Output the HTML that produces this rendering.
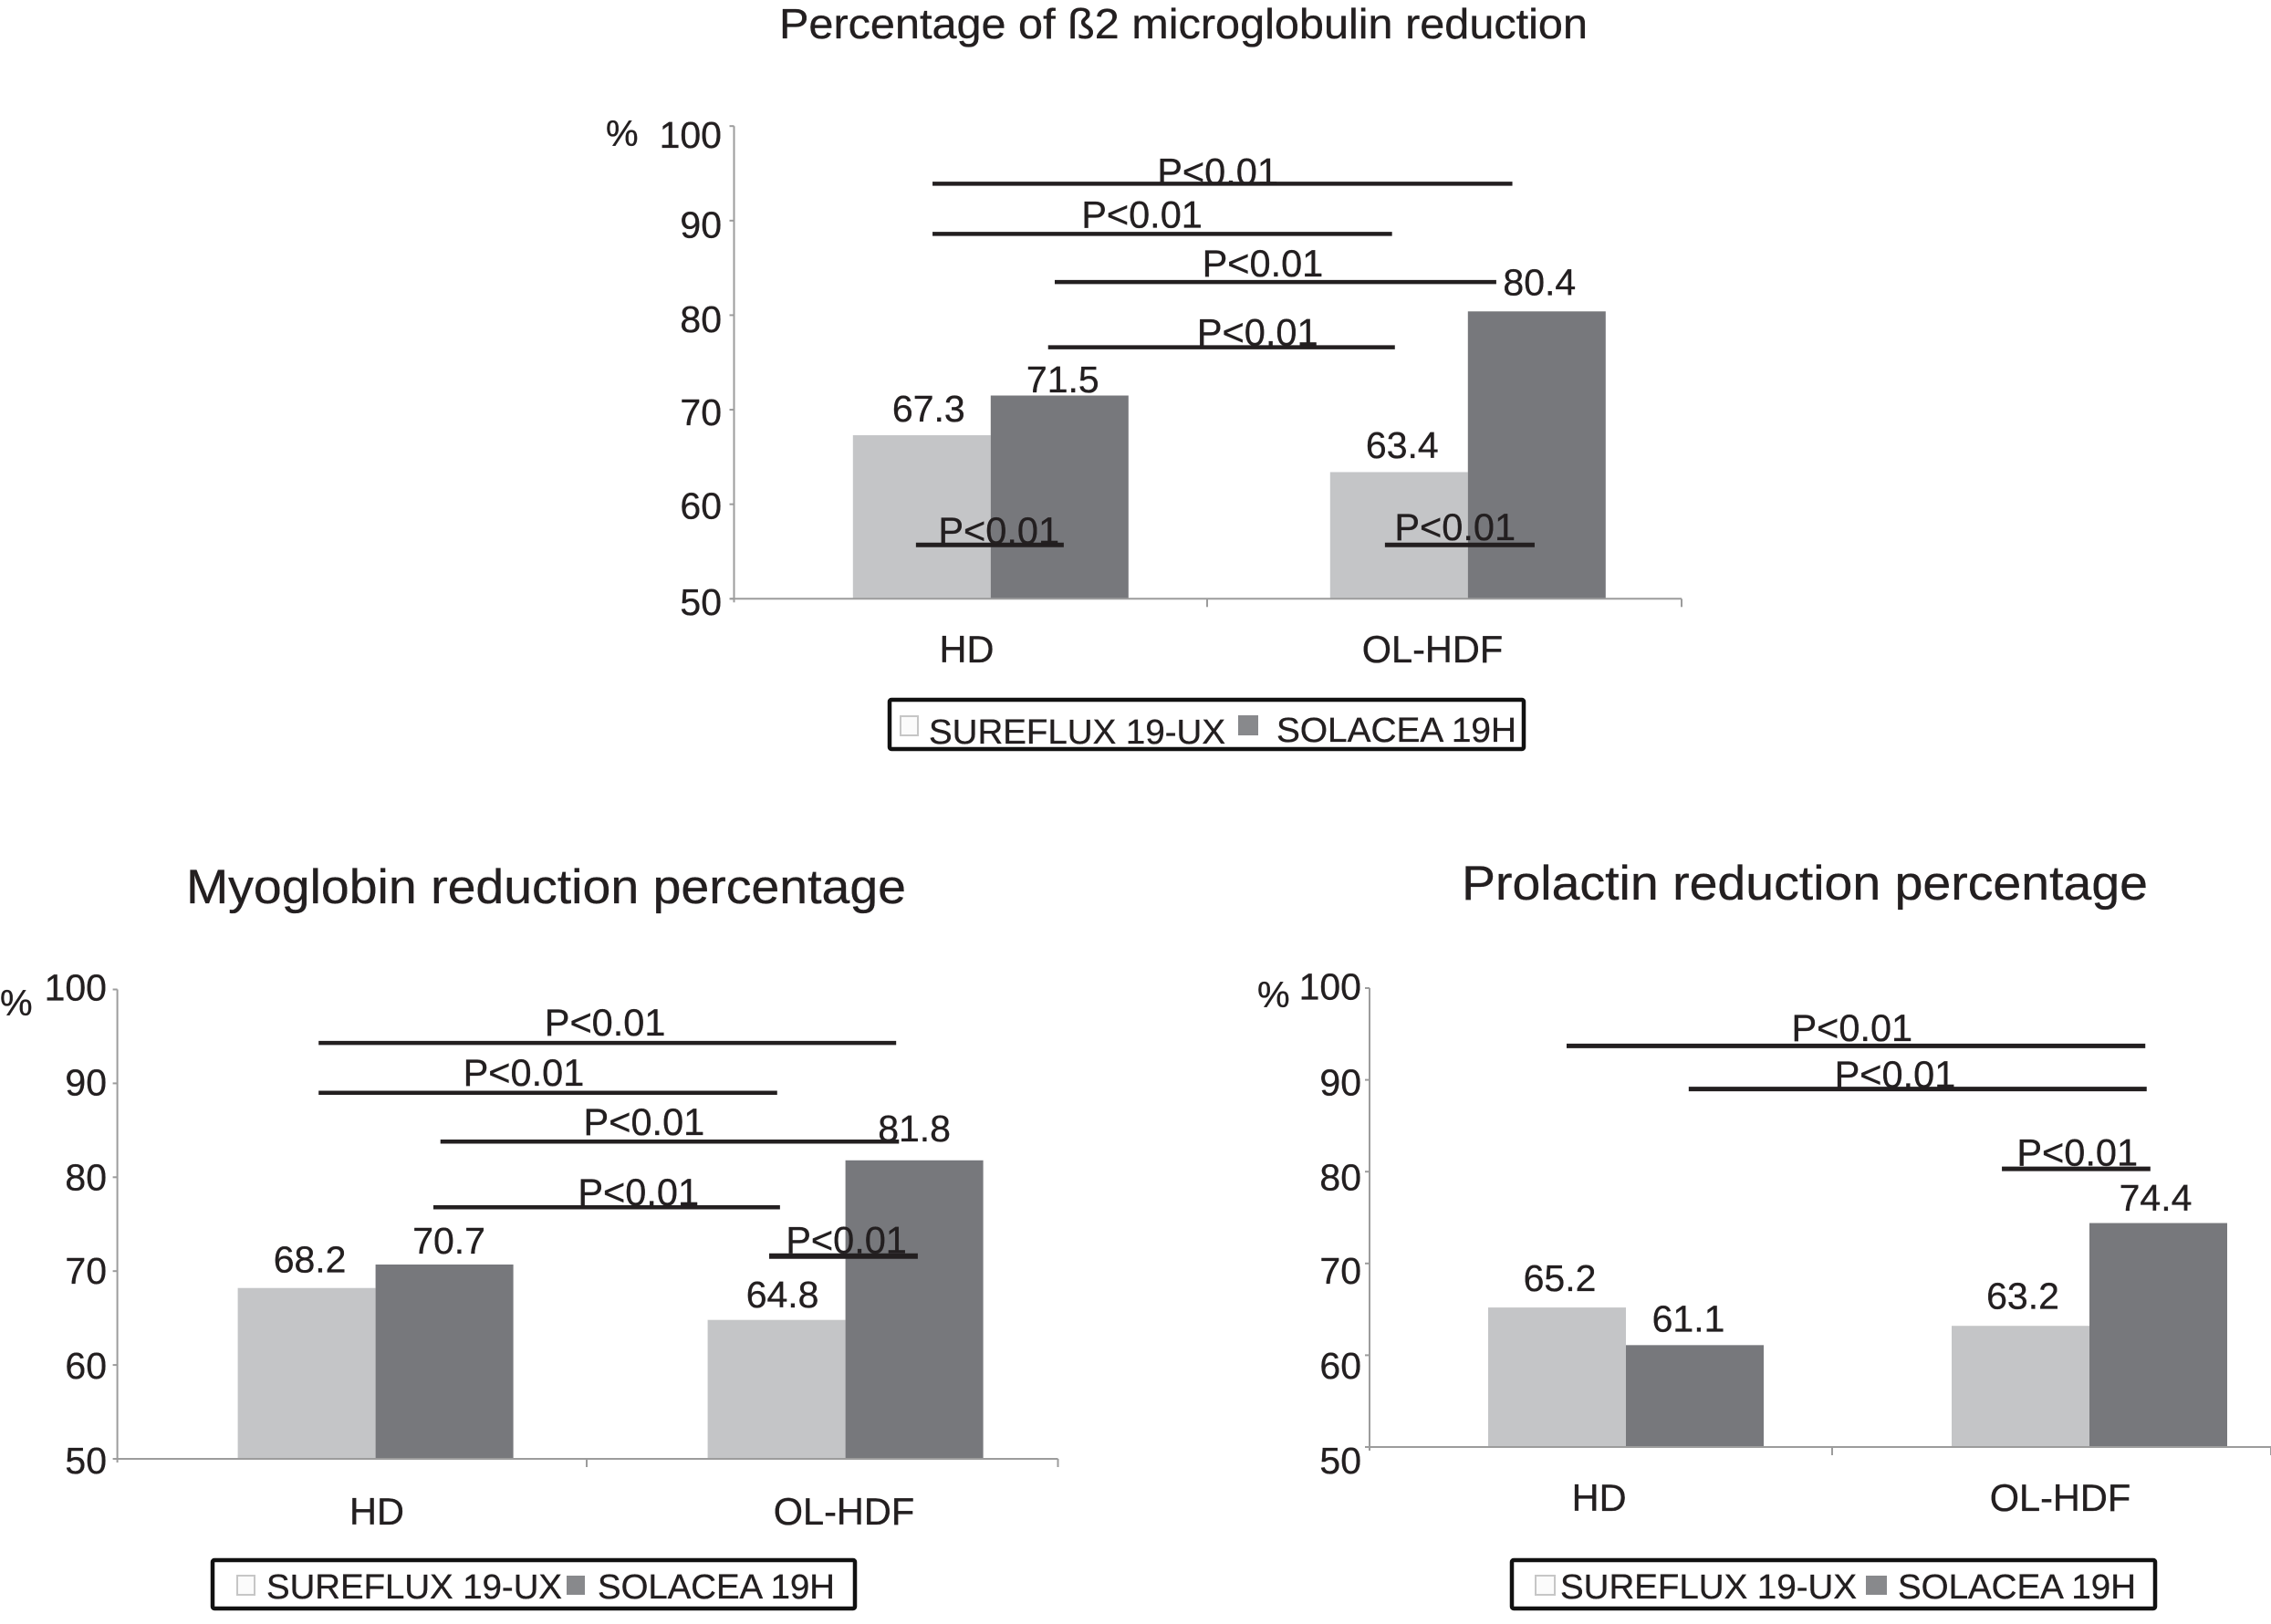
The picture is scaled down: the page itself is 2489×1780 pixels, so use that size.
<!DOCTYPE html>
<html lang="en">
<head>
<meta charset="utf-8">
<title>Reduction percentage charts</title>
<style>
html,body{margin:0;padding:0;background:#fff;width:2489px;height:1780px;overflow:hidden}
svg{display:block}
text{font-family:"Liberation Sans",sans-serif;fill:#231f20;stroke:#231f20;stroke-width:.35px}
</style>
</head>
<body>
<svg id="figure" xmlns="http://www.w3.org/2000/svg" width="2489" height="1780" viewBox="0 0 2489 1780"></svg>
<script>
// ---- Data ----
const categories = ['HD', 'OL-HDF'];
const yTicks = [50, 60, 70, 80, 90, 100];
const seriesNames = ['SUREFLUX 19-UX', 'SOLACEA 19H'];
const pText = 'P<0.01';

const betaSureflux = [67.3, 63.4];
const betaSolacea = [71.5, 80.4];
const myoSureflux = [68.2, 64.8];
const myoSolacea = [70.7, 81.8];
const proSureflux = [65.2, 63.2];
const proSolacea = [61.1, 74.4];

// Significance brackets: y level in %, extent in category-axis units (0 to 2)
const betaPLevels = [93.9, 88.6, 83.5, 76.6, 55.7, 55.7];
const betaPFrom = [0.419, 0.419, 0.677, 0.663, 0.384, 1.374];
const betaPTo = [1.643, 1.389, 1.609, 1.395, 0.696, 1.690];
const betaPMid = [1.021, 0.861, 1.116, 1.105, 0.559, 1.522];

const myoPLevels = [94.3, 89.0, 83.8, 76.8, 71.6];
const myoPFrom = [0.428, 0.428, 0.687, 0.672, 1.386];
const myoPTo = [1.656, 1.403, 1.662, 1.409, 1.702];
const myoPMid = [1.037, 0.864, 1.120, 1.108, 1.550];

const proPLevels = [93.7, 89.0, 80.3];
const proPFrom = [0.426, 0.690, 1.367];
const proPTo = [1.677, 1.680, 1.688];
const proPMid = [1.043, 1.136, 1.530];

// ---- Layout of each panel (geometry only) ----
const COLORS = {light: '#c4c5c7', dark: '#77787c', axis: '#9c9c9c', ink: '#231f20'};

const panels = [
  {
    key: 'beta', title: 'Percentage of ß2 microglobulin reduction',
    titleX: 854, titleY: 42, titleW: 886, titleSize: 46,
    left: 804.5, right: 1843, top: 138.2, bottom: 656.3,
    tickLabelRight: 791, tickLabelTop: 162, tickLabelBottom: 674,
    tickLabelNudge: [0, -3, -3, -3, -4, 0],
    pct: [664, 160],
    groupStart: 281.3, groupStep: 523, barW: 151,
    sureflux: betaSureflux, solacea: betaSolacea,
    labelDx: [[7.5, 3.5], [3.5, 3]], labelDy: [[-15, -15.5], [-3.6, -18]],
    catX: [1059.5, 1570], catY: 726, midTick: 1323,
    pLevels: betaPLevels, pFrom: betaPFrom, pTo: betaPTo, pMid: betaPMid,
    pDy: [1, -7, -6, -2, -1, -5], pWidth: [4.5, 4.5, 4.5, 4.5, 5, 5],
    legend: {x: 975, y: 767, w: 695, h: 54, sw1: [987, 785, 19, 21], t1: [1018, 815, 325], sw2: [1357, 784, 22, 22], t2: [1399, 813, 263]}
  },
  {
    key: 'myoglobin', title: 'Myoglobin reduction percentage',
    titleX: 204, titleY: 990, titleW: 789, titleSize: 53,
    left: 128.6, right: 1159.5, top: 1084.5, bottom: 1599,
    tickLabelRight: 117, tickLabelTop: 1095.5, tickLabelBottom: 1615,
    tickLabelNudge: [0, 0, 0, 1, 1, 1],
    pct: [0, 1113],
    groupStart: 283, groupStep: 515, barW: 151,
    sureflux: myoSureflux, solacea: myoSolacea,
    labelDx: [[3.5, 6.5], [5, 0]], labelDy: [[-17, -13.7], [-12, -21]],
    catX: [413, 925], catY: 1671, midTick: 643,
    pLevels: myoPLevels, pFrom: myoPFrom, pTo: myoPTo, pMid: myoPMid,
    pDy: [-8, -7.5, -7, -2, -3], pWidth: [4.5, 4.5, 4.5, 4.5, 6],
    legend: {x: 233, y: 1710, w: 704, h: 53, sw1: [260, 1727, 19, 21], t1: [292, 1752, 324], sw2: [621, 1727, 20, 21], t2: [655, 1752, 260]}
  },
  {
    key: 'prolactin', title: 'Prolactin reduction percentage',
    titleX: 1602, titleY: 986, titleW: 752, titleSize: 53,
    left: 1501, right: 2489, top: 1083, bottom: 1586,
    tickLabelRight: 1492, tickLabelTop: 1095.5, tickLabelBottom: 1615,
    tickLabelNudge: [0, 0, 0, 1, 1, 0],
    pct: [1378, 1104],
    groupStart: 281, groupStep: 508, barW: 151,
    sureflux: proSureflux, solacea: proSolacea,
    labelDx: [[3, 2.5], [-7, -3]], labelDy: [[-18, -18.5], [-15, -13.5]],
    catX: [1752.6, 2258], catY: 1656, midTick: 2008,
    pLevels: proPLevels, pFrom: proPFrom, pTo: proPTo, pMid: proPMid,
    pDy: [-5.5, -1.5, -3.5], pWidth: [5, 5, 5],
    legend: {x: 1657, y: 1710, w: 705, h: 53, sw1: [1683, 1727, 21, 21], t1: [1710, 1752, 325], sw2: [2045, 1727, 23, 21], t2: [2080, 1752, 261]}
  }
];

const NS = 'http://www.w3.org/2000/svg';
const figure = document.getElementById('figure');

function make(parent, tag, props, content) {
  const node = document.createElementNS(NS, tag);
  Object.keys(props).forEach(function (k) { node.setAttribute(k, props[k]); });
  if (content !== undefined) node.textContent = content;
  parent.appendChild(node);
  return node;
}

function drawPanel(p) {
  const valueSpan = yTicks[yTicks.length - 1] - yTicks[0];
  const yScale = function (v) { return p.bottom - (v - yTicks[0]) * (p.bottom - p.top) / valueSpan; };
  const axisUnit = p.key === 'beta' ? 519.2 : p.key === 'myoglobin' ? 515.45 : 507;
  const xScale = function (u) { return p.left + u * axisUnit; };
  const groupX = function (i) { return p.left + p.groupStart + i * p.groupStep; };
  const tickLabelY = function (v) {
    return p.tickLabelBottom - (v - yTicks[0]) * (p.tickLabelBottom - p.tickLabelTop) / valueSpan;
  };

  let el;
  const g = make(figure, 'g', {});
  
  

  el = make(g, 'text', {x: p.titleX, y: p.titleY, 'font-size': p.titleSize, textLength: p.titleW, lengthAdjust: 'spacingAndGlyphs'}, p.title);
  
  

  // Bars
  categories.forEach(function (cat, i) {
    const cx = groupX(i);
    [[p.sureflux, COLORS.light, -1, 'sureflux', 0], [p.solacea, COLORS.dark, 0, 'solacea', 1]].forEach(function (s) {
      const value = s[0][i];
      const bx = cx + s[2] * p.barW;
      const top = yScale(value);
      const bar = make(g, 'rect', {x: bx, y: top, width: p.barW, height: p.bottom - top, fill: s[1]});
      
      
      const lab = make(g, 'text', {
        x: bx + p.barW / 2 + p.labelDx[s[4]][i],
        y: top + p.labelDy[s[4]][i],
        'font-size': 41, 'text-anchor': 'middle'
      }, value.toFixed(1));
      
      
    });
  });

  // Axes
  el = make(g, 'line', {x1: p.left, x2: p.left, y1: p.top, y2: p.bottom + 4, stroke: COLORS.axis, 'stroke-width': 2});
  
  

  el = make(g, 'line', {x1: p.left - 4, x2: p.right, y1: p.bottom, y2: p.bottom, stroke: COLORS.axis, 'stroke-width': 2});
  
  

  [p.midTick, p.right].forEach(function (tx) {
    const t = make(g, 'line', {x1: tx, x2: tx, y1: p.bottom, y2: p.bottom + 9, stroke: COLORS.axis, 'stroke-width': 2});
    
    
  });

  yTicks.forEach(function (v, i) {
    const t = make(g, 'line', {x1: p.left - 5, x2: p.left, y1: yScale(v), y2: yScale(v), stroke: COLORS.axis, 'stroke-width': 2});
    
    
    const lab = make(g, 'text', {x: p.tickLabelRight, y: tickLabelY(v) + p.tickLabelNudge[i], 'font-size': 41, 'text-anchor': 'end'}, String(v));
    
    
  });

  el = make(g, 'text', {x: p.pct[0], y: p.pct[1], 'font-size': 40}, '%');
  
  

  categories.forEach(function (cat, i) {
    const c = make(g, 'text', {x: p.catX[i], y: p.catY, 'font-size': 41.5, 'text-anchor': 'middle'}, cat);
    
    
  });

  // Significance brackets
  p.pLevels.forEach(function (level, i) {
    const ly = yScale(level);
    const line = make(g, 'line', {x1: xScale(p.pFrom[i]), x2: xScale(p.pTo[i]), y1: ly, y2: ly, stroke: COLORS.ink, 'stroke-width': p.pWidth[i]});
    
    
    const lab = make(g, 'text', {x: xScale(p.pMid[i]), y: ly + p.pDy[i], 'font-size': 41.5, 'text-anchor': 'middle'}, pText);
    
    
  });

  // Legend
  const L = p.legend;
  const lg = make(g, 'g', {});
  
  

  el = make(lg, 'rect', {x: L.x, y: L.y, width: L.w, height: L.h, fill: '#fff', stroke: '#111', 'stroke-width': 4.5, rx: 2});
  
  

  el = make(lg, 'rect', {x: L.sw1[0], y: L.sw1[1], width: L.sw1[2], height: L.sw1[3], fill: '#fbfbfb', stroke: '#c6c6c6', 'stroke-width': 2});
  
  

  el = make(lg, 'text', {x: L.t1[0], y: L.t1[1], 'font-size': 38, textLength: L.t1[2], lengthAdjust: 'spacingAndGlyphs'}, seriesNames[0]);
  
  

  el = make(lg, 'rect', {x: L.sw2[0], y: L.sw2[1], width: L.sw2[2], height: L.sw2[3], fill: '#88898c'});
  
  

  el = make(lg, 'text', {x: L.t2[0], y: L.t2[1], 'font-size': 38, textLength: L.t2[2], lengthAdjust: 'spacingAndGlyphs'}, seriesNames[1]);
  
  
}

panels.forEach(drawPanel);
</script>
</body>
</html>
